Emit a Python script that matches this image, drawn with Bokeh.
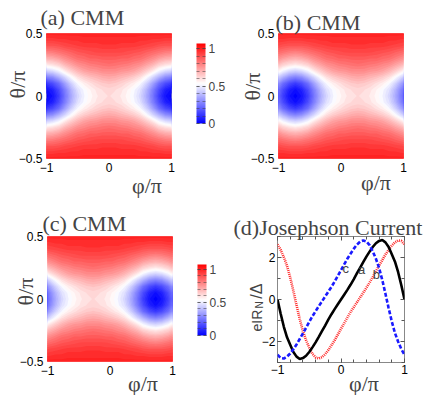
import math
import numpy as np
from bokeh.plotting import figure
from bokeh.layouts import column, row
from bokeh.models import (LinearColorMapper, ColorBar, FixedTicker, Label,
                          LinearAxis, Range1d)
from bokeh.embed import file_html
from bokeh.resources import INLINE

# ---------------- data ----------------
# CMM map of panel (a): rows theta/pi = 0.00..0.50 (step 0.05),
# columns phi/pi = -1.0..0.0 (step 0.1); the map is mirror-symmetric in both.
PHI_HALF = [-1.0, -0.9, -0.8, -0.7, -0.6, -0.5, -0.4, -0.3, -0.2, -0.1, 0.0]
THETA_HALF = [0.0, 0.05, 0.1, 0.15, 0.2, 0.25, 0.3, 0.35, 0.4, 0.45, 0.5]
CMM_A_HALF = [
    [0.00, 0.04, 0.13, 0.25, 0.36, 0.45, 0.51, 0.55, 0.58, 0.60, 0.61],
    [0.03, 0.07, 0.16, 0.27, 0.38, 0.47, 0.52, 0.56, 0.59, 0.61, 0.62],
    [0.12, 0.16, 0.23, 0.34, 0.44, 0.52, 0.57, 0.60, 0.63, 0.65, 0.66],
    [0.27, 0.30, 0.37, 0.45, 0.53, 0.60, 0.64, 0.67, 0.69, 0.71, 0.72],
    [0.44, 0.46, 0.51, 0.58, 0.64, 0.69, 0.73, 0.75, 0.76, 0.78, 0.78],
    [0.58, 0.60, 0.63, 0.69, 0.73, 0.77, 0.79, 0.81, 0.82, 0.83, 0.84],
    [0.70, 0.71, 0.74, 0.78, 0.81, 0.84, 0.85, 0.87, 0.87, 0.88, 0.88],
    [0.80, 0.81, 0.83, 0.85, 0.87, 0.89, 0.90, 0.91, 0.92, 0.92, 0.92],
    [0.89, 0.89, 0.90, 0.92, 0.93, 0.94, 0.95, 0.95, 0.95, 0.96, 0.96],
    [0.95, 0.95, 0.96, 0.96, 0.97, 0.97, 0.98, 0.98, 0.98, 0.98, 0.98],
    [1.00, 1.00, 1.00, 1.00, 1.00, 1.00, 1.00, 1.00, 1.00, 1.00, 1.00],
]
# panels (b) and (c) show the same map shifted along phi/pi
CMM_SHIFT = {"a": 0.0, "b": 0.27, "c": -0.27}
CBAR_LOW, CBAR_HIGH = 0.0, 1.07
CBAR_TICKS = [0.0, 0.5, 1.0]
CBAR_MINOR = [0.0, 0.1, 0.2, 0.3, 0.4, 0.5, 0.6, 0.7, 0.8, 0.9, 1.0]

# panel (d): Josephson current eIR_N/Delta versus phi/pi
PHI = [-1.00, -0.95, -0.90, -0.85, -0.80, -0.75, -0.70, -0.65, -0.60, -0.55,
       -0.50, -0.45, -0.40, -0.35, -0.30, -0.25, -0.20, -0.15, -0.10, -0.05,
       0.00, 0.05, 0.10, 0.15, 0.20, 0.25, 0.30, 0.35, 0.40, 0.45,
       0.50, 0.55, 0.60, 0.65, 0.70, 0.75, 0.80, 0.85, 0.90, 0.95, 1.00]
CURRENT_A = [0.00, -0.68, -1.30, -1.80, -2.15, -2.50, -2.72, -2.83, -2.79, -2.68,
             -2.50, -2.28, -2.04, -1.78, -1.51, -1.24, -0.96, -0.70, -0.46, -0.23,
             0.00, 0.23, 0.46, 0.70, 0.96, 1.24, 1.51, 1.78, 2.04, 2.28,
             2.50, 2.68, 2.79, 2.83, 2.72, 2.50, 2.15, 1.80, 1.30, 0.68, 0.00]
CURRENT_B = [2.63, 2.36, 2.01, 1.60, 1.05, 0.41, -0.27, -0.93, -1.50, -1.94,
             -2.29, -2.59, -2.76, -2.81, -2.75, -2.61, -2.41, -2.18, -1.94, -1.67,
             -1.40, -1.13, -0.86, -0.60, -0.37, -0.14, 0.09, 0.32, 0.56, 0.80,
             1.07, 1.35, 1.62, 1.88, 2.14, 2.37, 2.57, 2.72, 2.81, 2.79, 2.63]
CURRENT_C = [-2.63, -2.79, -2.81, -2.72, -2.57, -2.37, -2.14, -1.88, -1.62, -1.35,
             -1.07, -0.80, -0.56, -0.32, -0.09, 0.14, 0.37, 0.60, 0.86, 1.13,
             1.40, 1.67, 1.94, 2.18, 2.41, 2.61, 2.75, 2.81, 2.76, 2.59,
             2.29, 1.94, 1.50, 0.93, 0.27, -0.41, -1.05, -1.60, -2.01, -2.36, -2.63]
CURVE_TAGS = [("a", 0.30), ("b", 0.55), ("c", 0.05)]
X_TICKS = [-1, 0, 1]
X_MINOR = [-1.0, -0.8, -0.6, -0.4, -0.2, 0.0, 0.2, 0.4, 0.6, 0.8, 1.0]
Y_TICKS_D = [-2, 0, 2]
Y_MINOR_D = [-3, -2, -1, 0, 1, 2, 3]
Y_TICKS_MAP = [-0.5, 0, 0.5]

# ---------------- styling ----------------
SANS = "Liberation Sans"
SERIF = "Liberation Serif"


def bwr(n=256):
    cols = []
    for i in range(n):
        t = i / (n - 1)
        if t < 0.5:
            u = t / 0.5
            r = g = int(round(255 * u)); b = 255
        else:
            u = (t - 0.5) / 0.5
            r = 255; g = b = int(round(255 * (1 - u)))
        cols.append("#%02x%02x%02x" % (r, g, b))
    return cols


PALETTE = bwr()
mapper = LinearColorMapper(palette=PALETTE, low=CBAR_LOW, high=CBAR_HIGH)

# shading levels for the maps (stacked filled contours) and their colours
LEVELS = list(np.linspace(-0.01, 1.06, 46))
BAND_COLORS = []
for lo, hi in zip(LEVELS[:-1], LEVELS[1:]):
    t = min(max((0.5 * (lo + hi) - CBAR_LOW) / (CBAR_HIGH - CBAR_LOW), 0.0), 1.0)
    BAND_COLORS.append(PALETTE[int(round(t * 255))])

half = np.array(CMM_A_HALF)
one_period = np.hstack([half, half[:, len(PHI_HALF) - 2:0:-1]])   # phi -1 .. 0.9
theta_full = np.array([-t for t in THETA_HALF[:0:-1]] + THETA_HALF)
dphi = PHI_HALF[1] - PHI_HALF[0]
period = one_period.shape[1] * dphi


def map_grid(shift):
    z_rows = np.vstack([one_period[:0:-1], one_period])             # theta -0.5 .. 0.5
    z = np.hstack([z_rows, z_rows, z_rows, z_rows[:, :1]])          # three periods
    x = PHI_HALF[0] - period + shift + dphi * np.arange(z.shape[1])
    return x, z


def style_axes(p, size="12px"):
    for ax in (p.xaxis[0], p.yaxis[0]):
        ax.major_label_text_font = SANS
        ax.major_label_text_font_size = size
        ax.major_label_text_color = "black"
        ax.axis_line_color = None
    p.xgrid.visible = False
    p.ygrid.visible = False


def txt(x, y, xo, yo, text, font, size, align="left", angle=0.0):
    return Label(x=x, y=y, x_offset=xo, y_offset=yo, text=text, text_font=font,
                 text_font_size=size, text_align=align, text_baseline="alphabetic",
                 angle=angle)


def heat_panel(key, title, borders, title_off, xlab_off, ylab_off, places, cbar=None):
    L, R, T, B = borders
    p = figure(frame_width=125, frame_height=125, x_range=Range1d(-1, 1),
               y_range=Range1d(-0.5, 0.5), output_backend="svg",
               toolbar_location=None, min_border_left=L, min_border_right=R,
               min_border_top=T, min_border_bottom=B,
               background_fill_color="white", border_fill_color="white")
    x, z = map_grid(CMM_SHIFT[key])
    top = float(z.max()) + 1.0
    for lev, col in zip(LEVELS[:-1], BAND_COLORS):
        cr = p.contour(x=x, y=theta_full, z=z, levels=[lev, top], fill_color=[col],
                       line_color=None)
        cr.fill_renderer.glyph.line_color = col
        cr.fill_renderer.glyph.line_width = 0.8
    p.xaxis.ticker = FixedTicker(ticks=X_TICKS)
    p.yaxis.ticker = FixedTicker(ticks=Y_TICKS_MAP)
    style_axes(p, "12px")
    for ax in (p.xaxis[0], p.yaxis[0]):
        ax.major_tick_line_color = None
        ax.minor_tick_line_color = None
        ax.major_tick_out = 0
        ax.major_tick_in = 0
        ax.major_label_standoff = 4
    p.outline_line_color = "#b4b4b4"
    p.add_layout(txt(-1, 0.5, title_off[0], title_off[1], title, SERIF, "22px"),
                 places[0])
    p.add_layout(txt(1, -0.5, xlab_off[0], xlab_off[1], "φ/π", SERIF, "22px",
                     align="center"), places[1])
    p.add_layout(txt(-1, 0, ylab_off[0], ylab_off[1], "θ/π", SERIF, "22px",
                     align="center", angle=math.pi / 2), places[2])
    if cbar is not None:
        cb = ColorBar(color_mapper=mapper, width=9, height=cbar[2],
                      location=(cbar[0], cbar[1]), padding=0, margin=0,
                      ticker=FixedTicker(ticks=CBAR_TICKS, minor_ticks=CBAR_MINOR),
                      major_label_text_font=SANS, major_label_text_font_size="12px",
                      label_standoff=3, major_tick_in=9, major_tick_out=0,
                      major_tick_line_color="#444444", major_tick_line_alpha=0.55,
                      major_tick_line_dash="3 3",
                      minor_tick_in=9, minor_tick_out=0,
                      minor_tick_line_color="#444444", minor_tick_line_alpha=0.55,
                      minor_tick_line_dash="3 3",
                      bar_line_color=None, border_line_color=None,
                      background_fill_alpha=0)
        p.add_layout(cb, "center")
    return p


pa = heat_panel("a", "(a) CMM", (46, 69, 33, 50), (-6, 16), (-24.5, -27), (-29, 11.5),
                ("above", "below", "right"), cbar=(150, 35, 80))
pb = heat_panel("b", "(b) CMM", (38, 33, 33, 50), (-3, 11), (-27.5, -24), (-26, 9.5),
                ("above", "below", "right"))
pc = heat_panel("c", "(c) CMM", (47, 57, 28, 34), (-5, 13), (-29.5, -22), (-22, 7.5),
                ("above", "right", "right"), cbar=(150, 26, 71))

# ---------------- panel (d) ----------------
pd = figure(frame_width=127, frame_height=126, x_range=Range1d(-1, 1),
            y_range=Range1d(-3, 3), output_backend="svg", toolbar_location=None,
            min_border_left=48, min_border_right=32, min_border_top=28,
            min_border_bottom=33, background_fill_color="white",
            border_fill_color="white")
pd.line(PHI, CURRENT_B, line_color="#ff2a2a", line_width=2.6, line_dash="1 1")
pd.line(PHI, CURRENT_A, line_color="black", line_width=2.6)
pd.line(PHI, CURRENT_C, line_color="#1a1aff", line_width=2.6, line_dash="4 2")
pd.xaxis.ticker = FixedTicker(ticks=X_TICKS, minor_ticks=X_MINOR)
pd.yaxis.ticker = FixedTicker(ticks=Y_TICKS_D, minor_ticks=Y_MINOR_D)
style_axes(pd, "12px")
for ax in (pd.xaxis[0], pd.yaxis[0]):
    ax.major_tick_in = 4
    ax.major_tick_out = 0
    ax.minor_tick_in = 3
    ax.minor_tick_out = 0
    ax.major_tick_line_color = "#555555"
    ax.minor_tick_line_color = "#555555"
    ax.major_label_standoff = 2
for side, tk in (("above", FixedTicker(ticks=X_TICKS, minor_ticks=X_MINOR)),
                 ("right", FixedTicker(ticks=Y_TICKS_D, minor_ticks=Y_MINOR_D))):
    ax = LinearAxis(ticker=tk, major_label_text_font_size="1px", major_label_standoff=0,
                    major_label_text_color=None, major_label_text_alpha=0,
                    major_tick_in=4, major_tick_out=0, minor_tick_in=3, minor_tick_out=0,
                    major_tick_line_color="#555555", minor_tick_line_color="#555555",
                    axis_line_color=None)
    pd.add_layout(ax, side)
pd.outline_line_color = "#888888"

curves = {"a": CURRENT_A, "b": CURRENT_B, "c": CURRENT_C}
tag_offsets = {"a": (1.5, -2), "b": (0.5, -3), "c": (1.5, -4)}
for tag, ph in CURVE_TAGS:
    i = PHI.index(ph)
    pd.add_layout(Label(x=PHI[i], y=curves[tag][i], x_offset=tag_offsets[tag][0],
                        y_offset=tag_offsets[tag][1], text=tag, text_font=SANS,
                        text_font_size="13px", text_align="center",
                        text_baseline="middle"))

pd.add_layout(txt(-1, 3, -44, 9.3, "(d)Josephson Current", SERIF, "22px"), "above")
pd.add_layout(txt(1, -3, -40.5, -21, "φ/π", SERIF, "22px", align="center"), "right")
pd.add_layout(txt(-1, 0, -21, -32, "eIR", SANS, "14px", angle=math.pi / 2), "left")
pd.add_layout(txt(-1, 0, -18, -9, "N", SANS, "10px", angle=math.pi / 2), "left")
pd.add_layout(txt(-1, 0, -21, 0.7, "/Δ", SANS, "16px", angle=math.pi / 2), "below")

layout = column(row(pa, pb), row(pc, pd))
open("out.html", "w").write(file_html(layout, INLINE))
